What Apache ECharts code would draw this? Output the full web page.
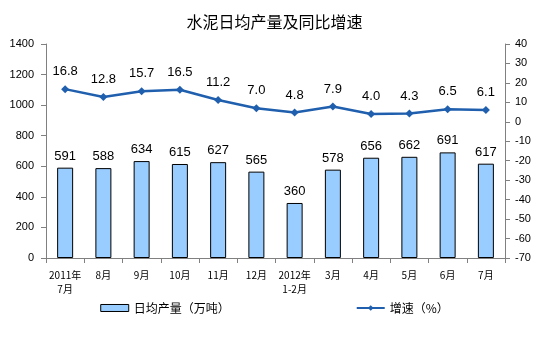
<!DOCTYPE html>
<html><head><meta charset="utf-8">
<script src="https://cdn.jsdelivr.net/npm/echarts@6/dist/echarts.min.js"></script>
<style>html,body{margin:0;padding:0;background:#fff}#c{width:549px;height:340px}</style>
</head><body><div id="c"></div>
<script>
const categories = ['2011年\n7月','8月','9月','10月','11月','12月','2012年\n1-2月','3月','4月','5月','6月','7月'];
const output = [591,588,634,615,627,565,360,578,656,662,691,617];
const growth = [16.8,12.8,15.7,16.5,11.2,7.0,4.8,7.9,4.0,4.3,6.5,6.1];
const leftTicks = [0,1400,200];
const rightTicks = [-70,40,10];

const chart = echarts.init(document.getElementById('c'));
const fam = '"Liberation Sans", Arial, sans-serif';
chart.setOption({
  animation:false,
  title:{text:'水泥日均产量及同比增速',left:'center',top:9,textStyle:{fontSize:16,fontWeight:'normal',color:'#000',fontFamily:'"Noto Sans CJK SC", sans-serif'}},
  grid:{left:46,right:44,top:44,bottom:82},
  legend:{bottom:21,itemGap:126,textStyle:{fontSize:12,color:'#000',fontFamily:'"Noto Sans CJK SC", sans-serif'},
    data:[{name:'日均产量（万吨）',icon:'rect',itemStyle:{color:'#99ccff',borderColor:'#000',borderWidth:1}},
          {name:'增速（%）'}],
    itemWidth:28,itemHeight:7},
  xAxis:{type:'category',data:categories,
    axisLine:{lineStyle:{color:'#808080'}},
    axisTick:{show:true,alignWithLabel:false,lineStyle:{color:'#808080'}},
    axisLabel:{fontSize:10,color:'#000',interval:0,lineHeight:14,margin:10,fontFamily:'"Noto Sans CJK SC", sans-serif'}},
  yAxis:[
    {type:'value',min:leftTicks[0],max:leftTicks[1],interval:leftTicks[2],
     axisLine:{show:true,lineStyle:{color:'#808080'}},axisTick:{show:true,lineStyle:{color:'#808080'}},
     splitLine:{show:false},axisLabel:{fontSize:11,color:'#000',fontFamily:fam,margin:12,formatter:v=>String(v)}},
    {type:'value',min:rightTicks[0],max:rightTicks[1],interval:rightTicks[2],
     axisLine:{show:true,lineStyle:{color:'#808080'}},axisTick:{show:true,lineStyle:{color:'#808080'}},
     splitLine:{show:false},axisLabel:{fontSize:11,color:'#000',fontFamily:fam,margin:10}}
  ],
  series:[
    {name:'日均产量（万吨）',type:'bar',data:output,barWidth:16,
     itemStyle:{color:'#99ccff',borderColor:'#000',borderWidth:1},
     label:{show:true,position:'top',fontSize:13,color:'#000',fontFamily:fam,distance:5}},
    {name:'增速（%）',type:'line',yAxisIndex:1,data:growth,
     symbol:'diamond',symbolSize:8,
     lineStyle:{color:'#1f5fae',width:2.5},itemStyle:{color:'#1f5fae'},
     label:{show:true,position:'top',fontSize:13,color:'#000',fontFamily:fam,distance:7,
       formatter:p=>p.value.toFixed(1)}}
  ]
});
</script></body></html>
